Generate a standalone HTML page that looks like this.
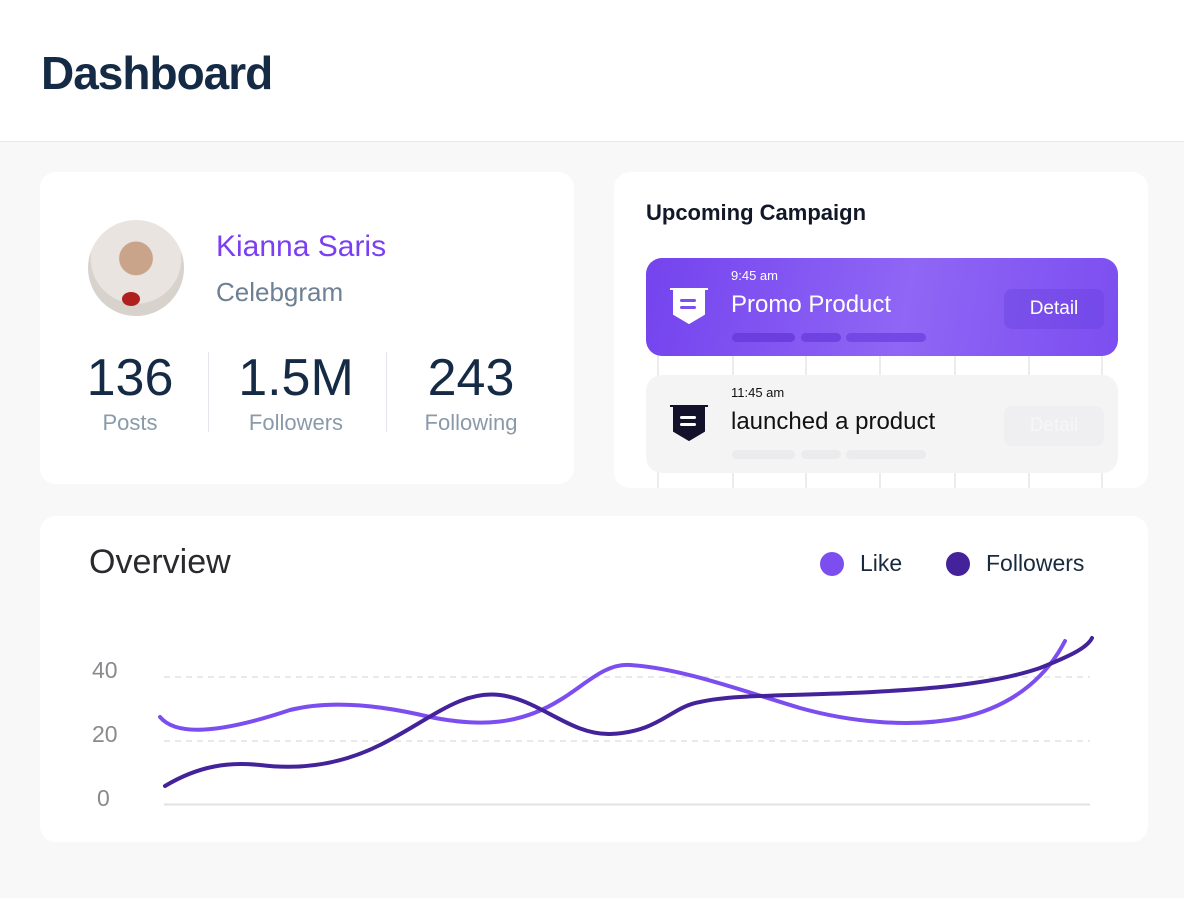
<!DOCTYPE html>
<html><head><meta charset="utf-8"><style>
*{margin:0;padding:0;box-sizing:border-box}
body{width:1184px;height:898px;background:#f8f8f9;font-family:"Liberation Sans",sans-serif;position:relative;overflow:hidden}
.hdr{position:absolute;left:0;top:0;width:1184px;height:142px;background:#fff;border-bottom:1px solid #e8e8ea}
.hdr h1{position:absolute;left:41px;top:46px;font-size:46px;font-weight:700;color:#142a45;letter-spacing:-1px}
.card{position:absolute;background:#fff;border-radius:16px}
.abs{position:absolute}
.num{position:absolute;font-size:52px;color:#142a45;top:348px;text-align:center;width:160px}
.lab{position:absolute;font-size:22px;color:#8a9aaa;top:410px;text-align:center;width:160px}
.camp{position:absolute;left:646px;width:472px;height:98px;border-radius:16px}
.bar{position:absolute;height:9px;border-radius:5px}
</style></head><body>
<div class="hdr"><h1>Dashboard</h1></div>

<div class="card" style="left:40px;top:172px;width:534px;height:312px"></div>
<div class="abs" style="left:88px;top:220px;width:96px;height:96px;border-radius:50%;background:radial-gradient(circle at 50% 40%,#c9a38a 0 22%,#e9e4df 23% 60%,#d8d2cc 61%);overflow:hidden"><div class="abs" style="left:34px;top:72px;width:18px;height:14px;border-radius:50%;background:#b0201e"></div></div>
<div class="abs" style="left:216px;top:230px;font-size:30px;color:#7b3ff2">Kianna Saris</div>
<div class="abs" style="left:216px;top:277px;font-size:26px;color:#6e8194">Celebgram</div>
<div class="num" style="left:50px">136</div><div class="lab" style="left:50px">Posts</div>
<div class="num" style="left:216px">1.5M</div><div class="lab" style="left:216px">Followers</div>
<div class="num" style="left:391px">243</div><div class="lab" style="left:391px">Following</div>
<div class="abs" style="left:208px;top:352px;width:1px;height:80px;background:#e3e6ea"></div>
<div class="abs" style="left:386px;top:352px;width:1px;height:80px;background:#e3e6ea"></div>

<div class="card" style="left:614px;top:172px;width:534px;height:316px;overflow:hidden">
<svg class="abs" style="left:0;top:0" width="534" height="316"><g stroke="#ececee" stroke-width="2">
<line x1="44" y1="180" x2="44" y2="316"/><line x1="119" y1="180" x2="119" y2="316"/><line x1="192" y1="180" x2="192" y2="316"/><line x1="266" y1="180" x2="266" y2="316"/><line x1="341" y1="180" x2="341" y2="316"/><line x1="415" y1="180" x2="415" y2="316"/><line x1="488" y1="180" x2="488" y2="316"/></g></svg>
</div>
<div class="abs" style="left:646px;top:200px;font-size:22px;color:#111827;font-weight:600">Upcoming Campaign</div>
<div class="camp" style="top:258px;background:linear-gradient(100deg,#7443ee,#8f66f5 55%,#7c4ef0)"></div>
<svg class="abs" style="left:668px;top:287px" width="42" height="40"><path d="M2 2h38M6 3h30v24l-15 9l-15-9z" fill="#fff" stroke="#fff" stroke-width="2"/><rect x="12" y="12" width="16" height="3" rx="1.5" fill="#7b4ef0"/><rect x="12" y="19" width="16" height="3" rx="1.5" fill="#7b4ef0"/></svg>
<div class="abs" style="left:731px;top:268px;font-size:13px;color:#fff">9:45 am</div>
<div class="abs" style="left:731px;top:291px;font-size:24px;color:#fff">Promo Product</div>
<div class="bar" style="left:732px;top:333px;width:63px;background:#6c3ee0"></div>
<div class="bar" style="left:801px;top:333px;width:40px;background:#6f43e2"></div>
<div class="bar" style="left:846px;top:333px;width:80px;background:#7448e4"></div>
<div class="abs" style="left:1004px;top:289px;width:100px;height:40px;border-radius:8px;background:rgba(100,60,220,.35);color:#fff;font-size:19px;text-align:center;line-height:40px">Detail</div>
<div class="camp" style="top:375px;background:#f4f4f5"></div>
<svg class="abs" style="left:668px;top:404px" width="42" height="40"><path d="M2 2h38M6 3h30v24l-15 9l-15-9z" fill="#14122a" stroke="#14122a" stroke-width="2"/><rect x="12" y="12" width="16" height="3" rx="1.5" fill="#fff"/><rect x="12" y="19" width="16" height="3" rx="1.5" fill="#fff"/></svg>
<div class="abs" style="left:731px;top:385px;font-size:13px;color:#111">11:45 am</div>
<div class="abs" style="left:731px;top:408px;font-size:24px;color:#111">launched a product</div>
<div class="bar" style="left:732px;top:450px;width:63px;background:#ebebed"></div>
<div class="bar" style="left:801px;top:450px;width:40px;background:#ebebed"></div>
<div class="bar" style="left:846px;top:450px;width:80px;background:#ebebed"></div>
<div class="abs" style="left:1004px;top:406px;width:100px;height:40px;border-radius:8px;background:#efeff1;color:#f6f6f7;font-size:19px;text-align:center;line-height:40px">Detail</div>

<div class="card" style="left:40px;top:516px;width:1108px;height:326px"></div>
<div class="abs" style="left:89px;top:543px;font-size:34px;color:#2a2a2e">Overview</div>
<div class="abs" style="left:820px;top:552px;width:24px;height:24px;border-radius:50%;background:#7c4ef0"></div>
<div class="abs" style="left:860px;top:550px;font-size:23px;color:#1a2a3e">Like</div>
<div class="abs" style="left:946px;top:552px;width:24px;height:24px;border-radius:50%;background:#43229a"></div>
<div class="abs" style="left:986px;top:550px;font-size:23px;color:#1a2a3e">Followers</div>
<svg class="abs" style="left:0;top:0" width="1184" height="898">
<g stroke="#dcdcde" stroke-width="1.2" stroke-dasharray="6 5"><line x1="164" y1="677" x2="1090" y2="677"/><line x1="164" y1="741" x2="1090" y2="741"/></g>
<line x1="164" y1="804.5" x2="1090" y2="804.5" stroke="#e2e2e4" stroke-width="2"/>
<g font-family="Liberation Sans" font-size="23" fill="#8a8a8e"><text x="92" y="678">40</text><text x="92" y="742">20</text><text x="97" y="806">0</text></g>
<path d="M160 717C175 735 215 735 290 710C330 700 380 705 430 717C480 727 520 725 560 700C585 685 605 663 630 665C680 668 740 690 800 708C850 722 910 728 960 718C1020 705 1050 670 1065 641" fill="none" stroke="#7c4ef0" stroke-width="4" stroke-linecap="round"/>
<path d="M165 786C200 765 230 762 260 765C300 770 340 765 380 745C430 720 460 690 500 695C540 700 570 735 610 734C660 732 670 707 700 702C730 695 780 696 850 693C920 690 990 685 1040 668C1070 656 1087 648 1092 638" fill="none" stroke="#43229a" stroke-width="4" stroke-linecap="round"/>
</svg>
</body></html>
